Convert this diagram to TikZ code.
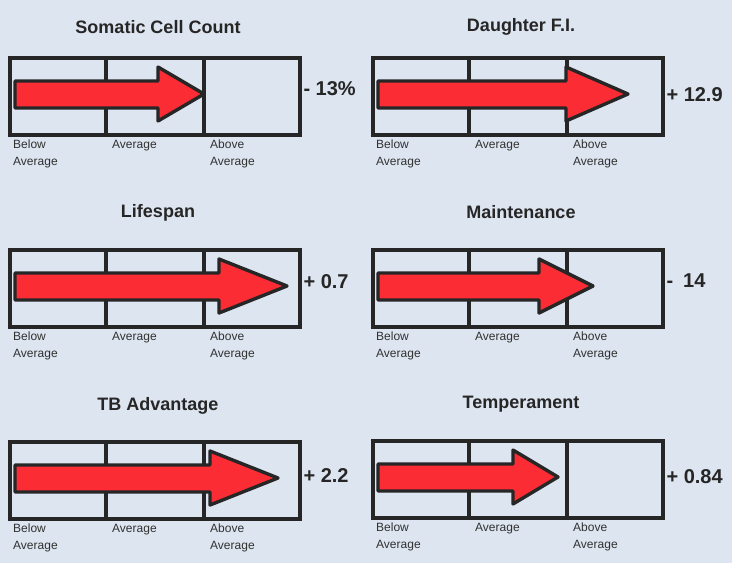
\documentclass[tikz,border=0pt]{standalone}
\usepackage{fontspec}
\setmainfont{Liberation Sans}
\definecolor{bgblue}{RGB}{221,229,240}
\definecolor{ink}{RGB}{38,38,38}
\definecolor{arrowred}{RGB}{251,44,52}
\tikzset{
  chartbox/.style={draw=ink, line width=3.4pt},
  bigarrow/.style={draw=ink, fill=arrowred, line width=3.4pt, line join=round},
  charttitle/.style={font=\fontsize{18}{21}\selectfont\bfseries, text=ink},
  chartvalue/.style={font=\fontsize{20}{24}\selectfont\bfseries, text=ink, anchor=west},
  scalelabel/.style={font=\fontsize{12}{17}\selectfont, text=ink!95, align=left, anchor=north west, inner sep=0pt}
}

\begin{document}
\begin{tikzpicture}[x=1pt, y=-1pt]
\fill[bgblue] (0,0) rectangle (732,563);

% one panel per trait: name/box x/box y/title y/head base/tip/value dy/title/value
\foreach \n/\bx/\by/\ty/\hb/\tip/\vy/\ttl/\val in {
  scc/10/58/27/148/194/31/{Somatic Cell Count}/{- 13\%},
  dfi/373/58/27/193/255/37/{Daughter F.I.}/{+ 12.9},
  life/10/250/213/209/277/31.5/{Lifespan}/{+ 0.7},
  maint/373/250/212/166/220/31/{Maintenance}/{-\enspace 14},
  tb/10/442/406/200/268/33.5/{TB Advantage}/{+ 2.2},
  temp/373/441/404/140/185/36/{Temperament}/{+ 0.84}}
{
  % Define nodes
  \path
  (\bx+148,\ty) node[charttitle] (title-\n) {\ttl}
  (\bx+290,\by+\vy) node[chartvalue] (value-\n) {\val}
  (\bx+3,\by+82) node[scalelabel] (below-\n) {Below\\Average}
  (\bx+102,\by+82) node[scalelabel] (avg-\n) {Average}
  (\bx+200,\by+82) node[scalelabel] (above-\n) {Above\\Average}
  ;

  % box and dividers
  \draw[chartbox] (\bx,\by) rectangle ++(290,77);
  \draw[chartbox]
  (\bx+96,\by) -- ++(0,77)
  (\bx+194,\by) -- ++(0,77)
  ;

  % the arrow
  \draw[bigarrow] (\bx+5,\by+23) -- (\bx+\hb,\by+23) -- (\bx+\hb,\by+9)
  -- (\bx+\tip,\by+36) -- (\bx+\hb,\by+63) -- (\bx+\hb,\by+50)
  -- (\bx+5,\by+50) -- cycle;
}

\end{tikzpicture}
\end{document}
